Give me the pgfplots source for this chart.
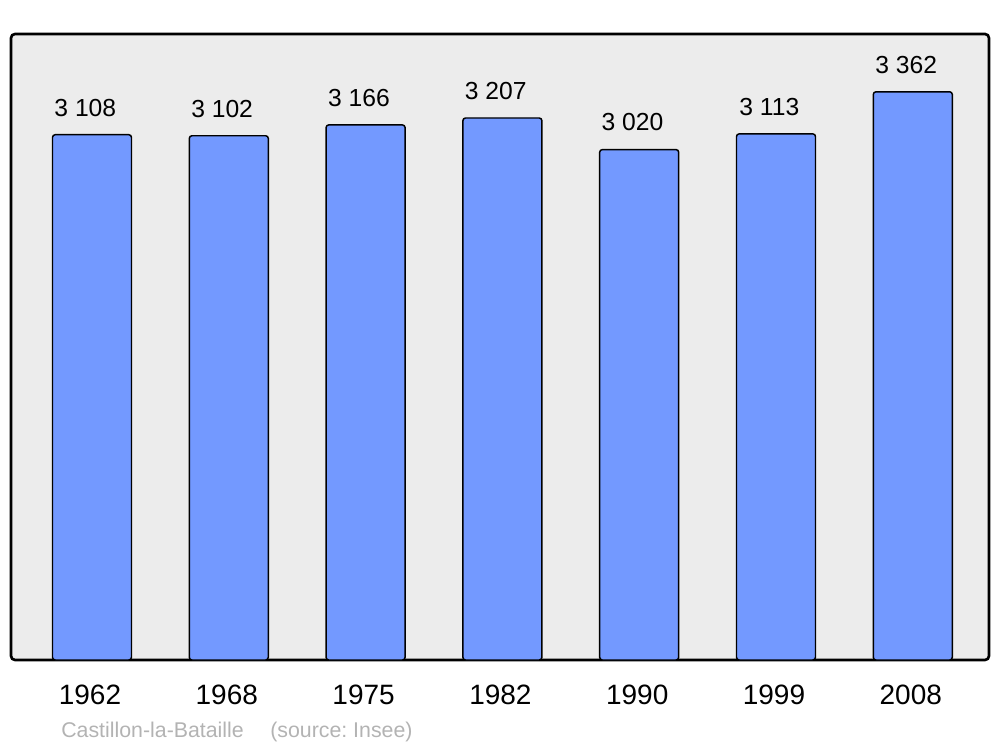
\documentclass[border=0pt]{standalone}
\usepackage{pgfplots}
\pgfplotsset{compat=1.18}
\usepackage{fontspec}
\setmainfont{Liberation Sans}
\frenchspacing
\definecolor{barblue}{HTML}{7399FF}
\definecolor{bgray}{HTML}{ECECEC}
\definecolor{capgray}{HTML}{B3B3B3}
\begin{document}
\begin{tikzpicture}
\begin{axis}[
  scale only axis,
  width=733.5pt, height=469.5pt,
  xmin=-0.592, xmax=6.557,
  ymin=0, ymax=3704,
  axis line style={draw=none},
  axis background/.style={fill=bgray, draw=black, line width=2pt, rounded corners=3pt},
  ytick=\empty,
  xtick=data,
  xticklabels={1962,1968,1975,1982,1990,1999,2008},
  major tick length=0pt,
  xticklabel style={font=\fontsize{21}{21}\selectfont, anchor=base, yshift=-33.5pt, xshift=-1.5pt},
  ybar, bar width=59.25pt,
  nodes near coords={\pgfmathprintnumber[1000 sep={\ }, assume math mode=true]{\pgfplotspointmeta}},
  nodes near coords style={font=\fontsize{18.5}{18.5}\selectfont, anchor=base, yshift=14pt, xshift=-5pt},
  clip=false,
]
\addplot[fill=barblue, draw=black, line width=1.1pt, rounded corners=2pt] coordinates {
  (0,3108) (1,3102) (2,3166) (3,3207) (4,3020) (5,3113) (6,3362)
};
\end{axis}
\useasboundingbox ([xshift=-8.25pt, yshift=-65.25pt]current axis.south west) rectangle ++(750pt,560.25pt);
\node[anchor=base west, text=capgray, font=\fontsize{16}{16}\selectfont, inner sep=0pt]
  at ([xshift=37.5pt, yshift=-57.75pt]current axis.south west) {Castillon-la-Bataille};
\node[anchor=base west, text=capgray, font=\fontsize{16}{16}\selectfont, inner sep=0pt]
  at ([xshift=194.25pt, yshift=-57.75pt]current axis.south west) {(source: Insee)};
\end{tikzpicture}
\end{document}
